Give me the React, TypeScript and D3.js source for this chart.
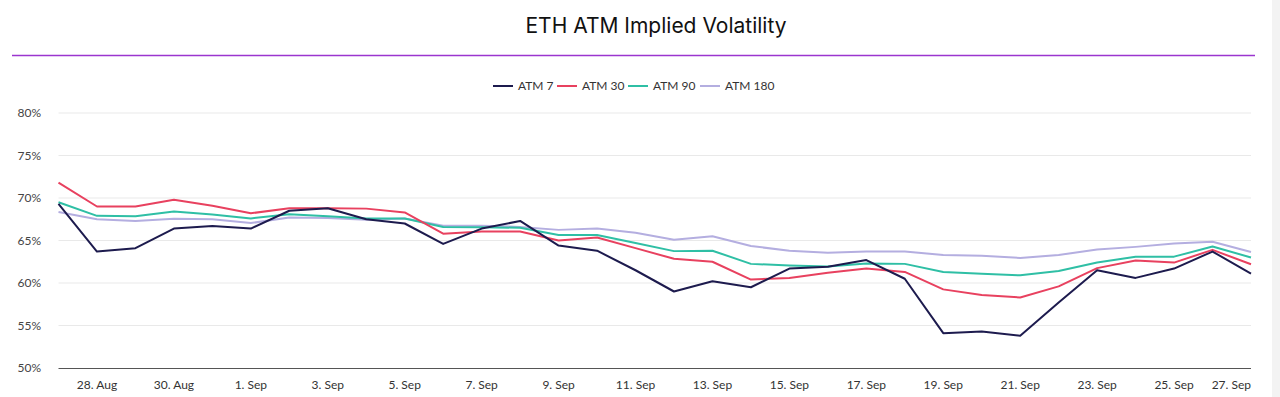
import React from "react";
import * as d3 from "d3";

const dates: string[] = [
  "2023-08-27","2023-08-28","2023-08-29","2023-08-30","2023-08-31",
  "2023-09-01","2023-09-02","2023-09-03","2023-09-04","2023-09-05",
  "2023-09-06","2023-09-07","2023-09-08","2023-09-09","2023-09-10",
  "2023-09-11","2023-09-12","2023-09-13","2023-09-14","2023-09-15",
  "2023-09-16","2023-09-17","2023-09-18","2023-09-19","2023-09-20",
  "2023-09-21","2023-09-22","2023-09-23","2023-09-24","2023-09-25",
  "2023-09-26","2023-09-27",
];

const atm7: number[] = [
  69.3, 63.7, 64.1, 66.4, 66.7, 66.4, 68.5, 68.8, 67.5, 67.0,
  64.6, 66.4, 67.3, 64.4, 63.8, 61.5, 59.0, 60.2, 59.5, 61.7,
  61.9, 62.7, 60.5, 54.1, 54.3, 53.8, 57.7, 61.5, 60.6, 61.7,
  63.7, 61.1,
];
const atm30: number[] = [
  71.8, 69.0, 69.0, 69.8, 69.1, 68.2, 68.8, 68.8, 68.75, 68.3,
  65.8, 66.05, 66.05, 65.0, 65.35, 64.1, 62.85, 62.5, 60.4, 60.6,
  61.2, 61.7, 61.3, 59.25, 58.6, 58.3, 59.6, 61.75, 62.65, 62.4,
  63.9, 62.2,
];
const atm90: number[] = [
  69.5, 67.9, 67.85, 68.4, 68.05, 67.6, 68.1, 67.85, 67.6, 67.6,
  66.6, 66.55, 66.5, 65.65, 65.65, 64.7, 63.75, 63.8, 62.25, 62.05,
  61.95, 62.3, 62.25, 61.3, 61.1, 60.9, 61.4, 62.4, 63.1, 63.1,
  64.3, 63.0,
];
const atm180: number[] = [
  68.35, 67.5, 67.3, 67.55, 67.5, 67.05, 67.7, 67.65, 67.45, 67.6,
  66.75, 66.75, 66.6, 66.25, 66.4, 65.9, 65.1, 65.5, 64.35, 63.8,
  63.55, 63.7, 63.7, 63.3, 63.2, 62.95, 63.3, 63.95, 64.25, 64.65,
  64.85, 63.65,
];

const seriesNames: string[] = ["ATM 7", "ATM 30", "ATM 90", "ATM 180"];
const seriesColors: string[] = ["#1d1b4e", "#e8415f", "#2fbfa5", "#b4aee0"];
const yTicks: number[] = [50, 55, 60, 65, 70, 75, 80];
const xTickDates: string[] = [
  "2023-08-28","2023-08-30","2023-09-01","2023-09-03","2023-09-05",
  "2023-09-07","2023-09-09","2023-09-11","2023-09-13","2023-09-15",
  "2023-09-17","2023-09-19","2023-09-21","2023-09-23","2023-09-25",
  "2023-09-27",
];

const W = 1280;
const H = 397;
const FONT = "Inter, 'Noto Sans', sans-serif";
const LFONT = "Lato, 'Noto Sans', sans-serif";

export default function App() {
  const parse = d3.timeParse("%Y-%m-%d");
  const xDates = dates.map((d) => parse(d) as Date);
  const left = 58.5;
  const right = 1251;
  const top = 113;
  const bottom = 368;

  const x = d3.scaleTime().domain(d3.extent(xDates) as [Date, Date]).range([left, right]);
  const y = d3.scaleLinear().domain([50, 80]).range([bottom, top]);
  const fmt = d3.timeFormat("%-d. %b");

  const all = [atm7, atm30, atm90, atm180];
  const line = d3
    .line<number>()
    .x((_, i) => x(xDates[i]))
    .y((v) => y(v));

  const legendX = [493, 557, 628, 700];

  return (
    <svg width={W} height={H} style={{ position: "absolute", left: 0, top: 0, background: "#fff" }}
      fontFamily={LFONT}>
      <rect x={0} y={0} width={W} height={H} fill="#ffffff" />
      <rect x={1272} y={0} width={8} height={H} fill="#f3f3f3" />
      <text x={656} y={33} textAnchor="middle" fontSize={21} fill="#111" fontWeight={400} fontFamily={FONT}>
        ETH ATM Implied Volatility
      </text>
      <line x1={12} x2={1255} y1={55.5} y2={55.5} stroke="#9b35cf" strokeWidth={1.5} />

      {seriesNames.map((n, i) => (
        <g key={n} transform={`translate(${legendX[i]},86)`}>
          <line x1={0} x2={20} y1={0} y2={0} stroke={seriesColors[i]} strokeWidth={2} />
          <text x={25} y={4.2} fontSize={12} fill="#333">{n}</text>
        </g>
      ))}

      {yTicks.map((t) => (
        <g key={t}>
          {t !== 50 && (
            <line x1={left} x2={right} y1={y(t)} y2={y(t)} stroke="#e9e9e9" strokeWidth={1} />
          )}
          <text x={41} y={y(t) + 4.2} textAnchor="end" fontSize={12} fill="#444">
            {t}%
          </text>
        </g>
      ))}
      <line x1={left} x2={right} y1={bottom + 0.5} y2={bottom + 0.5} stroke="#555" strokeWidth={1.2} />

      {xTickDates.map((d, i) => {
        const dt = parse(d) as Date;
        const px = x(dt);
        const last = i === xTickDates.length - 1;
        return (
          <text key={d} x={last ? right : px} y={389} textAnchor={last ? "end" : "middle"}
            fontSize={12} fill="#333">
            {fmt(dt)}
          </text>
        );
      })}

      {[3, 2, 1, 0].map((i) => (
        <path key={i} d={line(all[i]) || ""} fill="none" stroke={seriesColors[i]}
          strokeWidth={2} strokeLinejoin="round" />
      ))}
    </svg>
  );
}
